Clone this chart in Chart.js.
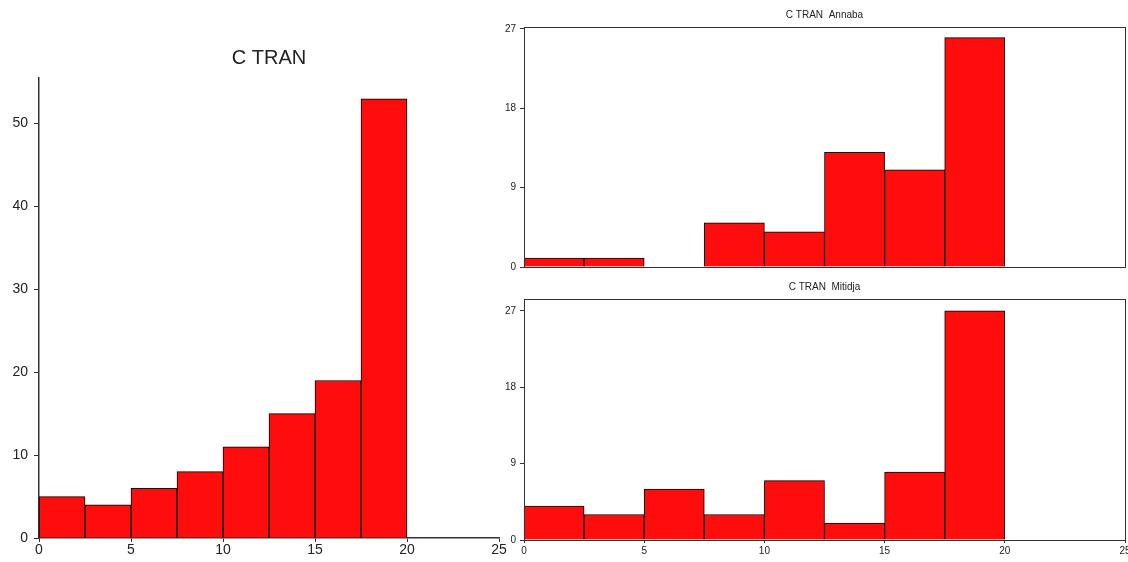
<!DOCTYPE html>
<html>
<head>
<meta charset="utf-8">
<script src="https://cdn.jsdelivr.net/npm/chart.js@4"></script>
<style>
  body { margin: 0; background: #fff; width: 1128px; height: 562px; overflow: hidden; position: relative; }
  canvas { position: absolute; }
</style>
</head>
<body>
<canvas id="all" width="520" height="562" style="left:0;top:0"></canvas>
<canvas id="annaba" width="640" height="277" style="left:500px;top:0"></canvas>
<canvas id="mitidja" width="640" height="282" style="left:500px;top:280px"></canvas>
<script>
// histogram bins (width 2.5) and counts per bin
const binEdges = [0, 2.5, 5, 7.5, 10, 12.5, 15, 17.5, 20];
const totalCounts = [5, 4, 6, 8, 11, 15, 19, 53];
const annabaCounts = [1, 1, 0, 5, 4, 13, 11, 26];
const mitidjaCounts = [4, 3, 6, 3, 7, 2, 8, 27];

const red = "#ff0d0d";
const ink = "#222";
const font = "'Liberation Sans', Arial, sans-serif";

function points(counts) {
  return counts.map((c, i) => ({ x: (binEdges[i] + binEdges[i + 1]) / 2, y: c }));
}

// box around the plot area for the small panels
const framePlugin = {
  id: "frame",
  afterDraw(chart, args, opts) {
    if (!opts.show) return;
    const a = chart.chartArea, ctx = chart.ctx;
    ctx.save();
    ctx.strokeStyle = "#333";
    ctx.lineWidth = 1;
    ctx.strokeRect(Math.round(a.left) + 0.5, Math.round(a.top) + 0.5,
      Math.round(a.right - a.left), Math.round(a.bottom - a.top));
    ctx.restore();
  }
};

function histogram(id, counts, o) {
  return new Chart(document.getElementById(id), {
    type: "bar",
    data: {
      datasets: [{
        data: points(counts),
        backgroundColor: red,
        borderColor: "#000",
        borderWidth: 1,
        barPercentage: 1,
        categoryPercentage: 1
      }]
    },
    options: {
      responsive: false,
      animation: false,
      layout: { padding: o.padding },
      plugins: {
        legend: { display: false },
        tooltip: { enabled: false },
        title: {
          display: true,
          text: o.title,
          fullSize: false,
          color: ink,
          font: { family: font, size: o.titleSize, weight: "normal" },
          padding: o.titlePad
        },
        frame: { show: o.frame }
      },
      scales: {
        x: {
          type: "linear",
          min: 0, max: 25,
          offset: false,
          display: o.xLabels !== false,
          border: { display: !o.frame, color: "#333", width: 1.5 },
          grid: { offset: false, drawOnChartArea: false, tickLength: o.xTick, color: "#333" },
          ticks: { stepSize: 5, padding: o.xPad, color: ink, font: { family: font, size: o.tickSize } },
          afterFit(s) { s.height = o.xHeight; }
        },
        y: {
          min: 0, max: o.yMax,
          border: { display: !o.frame, color: "#333", width: 1.5 },
          grid: { drawOnChartArea: false, tickLength: o.yTick, color: "#333" },
          ticks: { stepSize: o.yStep, includeBounds: false, padding: o.yPad, color: ink, font: { family: font, size: o.tickSize } },
          afterFit(s) { s.width = o.yWidth; }
        }
      }
    },
    plugins: [framePlugin]
  });
}

histogram("all", totalCounts, {
  title: "C TRAN", titleSize: 20, titlePad: { top: 46, bottom: 8 },
  padding: { left: 0, right: 21, top: 0, bottom: 0 },
  yMax: 55.5, yStep: 10, yWidth: 39, yTick: 5, yPad: 6,
  xHeight: 24, xTick: 4, xPad: 0, tickSize: 14, frame: false
});

histogram("annaba", annabaCounts, {
  title: "C TRAN  Annaba", titleSize: 10, titlePad: { top: 9, bottom: 6 },
  padding: { left: 0, right: 15, top: 0, bottom: 3 },
  yMax: 27.2, yStep: 9, yWidth: 24, yTick: 4, yPad: 4,
  xLabels: false, xHeight: 0, xTick: 3, xPad: 2, tickSize: 10, frame: true
});

histogram("mitidja", mitidjaCounts, {
  title: "C TRAN  Mitidja", titleSize: 10, titlePad: { top: 1, bottom: 6 },
  padding: { left: 0, right: 15, top: 0, bottom: 0 },
  yMax: 28.4, yStep: 9, yWidth: 24, yTick: 4, yPad: 4,
  xHeight: 22, xTick: 3, xPad: 2, tickSize: 10, frame: true
});
</script>
</body>
</html>
